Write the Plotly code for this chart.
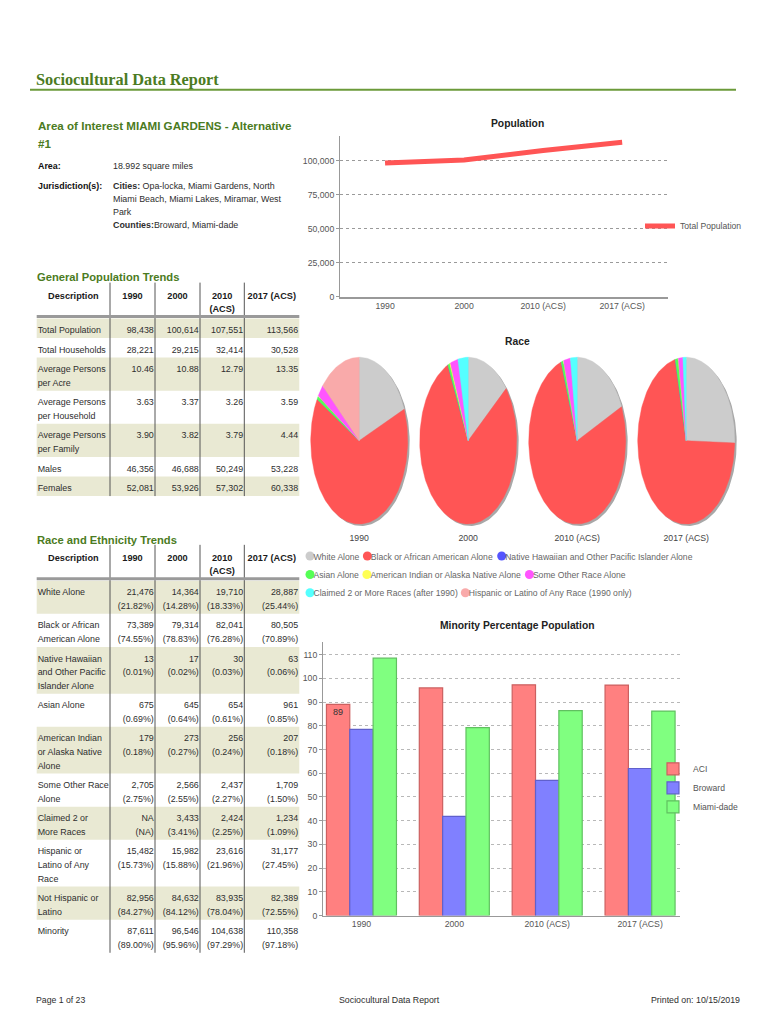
import plotly.graph_objects as go
import numpy as np

W, H = 770, 1024
FONT = "Liberation Sans, Arial, sans-serif"
SERIF = "Liberation Serif, Times New Roman, serif"
GREEN = "#4b7b22"
BEIGE = "#e9e9d3"
TXT = "#2e2e2e"

# ---------------- data ----------------
years = ["1990", "2000", "2010 (ACS)", "2017 (ACS)"]
table_headers = ["Description", "1990", "2000", "2010<br>(ACS)", "2017 (ACS)"]

area_sq_miles = 18.992
cities_lines = ["Opa-locka, Miami Gardens, North", "Miami Beach, Miami Lakes, Miramar, West", "Park"]
counties = "Broward, Miami-dade"

gen_labels = ["Total Population", "Total Households", "Average Persons<br>per Acre",
              "Average Persons<br>per Household", "Average Persons<br>per Family",
              "Males", "Females"]
gen_1990 = [98438, 28221, 10.46, 3.63, 3.90, 46356, 52081]
gen_2000 = [100614, 29215, 10.88, 3.37, 3.82, 46688, 53926]
gen_2010 = [107551, 32414, 12.79, 3.26, 3.79, 50249, 57302]
gen_2017 = [113566, 30528, 13.35, 3.59, 4.44, 53228, 60338]

race_labels = ["White Alone", "Black or African<br>American Alone",
               "Native Hawaiian<br>and Other Pacific<br>Islander Alone", "Asian Alone",
               "American Indian<br>or Alaska Native<br>Alone", "Some Other Race<br>Alone",
               "Claimed 2 or<br>More Races", "Hispanic or<br>Latino of Any<br>Race",
               "Not Hispanic or<br>Latino", "Minority"]
race_1990 = [21476, 73389, 13, 675, 179, 2705, None, 15482, 82956, 87611]
race_2000 = [14364, 79314, 17, 645, 273, 2566, 3433, 15982, 84632, 96546]
race_2010 = [19710, 82041, 30, 654, 256, 2437, 2424, 23616, 83935, 104638]
race_2017 = [28887, 80505, 63, 961, 207, 1709, 1234, 31177, 82389, 110358]
race_pct_1990 = [21.82, 74.55, 0.01, 0.69, 0.18, 2.75, None, 15.73, 84.27, 89.00]
race_pct_2000 = [14.28, 78.83, 0.02, 0.64, 0.27, 2.55, 3.41, 15.88, 84.12, 95.96]
race_pct_2010 = [18.33, 76.28, 0.03, 0.61, 0.24, 2.27, 2.25, 21.96, 78.04, 97.29]
race_pct_2017 = [25.44, 70.89, 0.06, 0.85, 0.18, 1.50, 1.09, 27.45, 72.55, 97.18]

pie_categories = ["White Alone", "Black or African American Alone",
                  "Native Hawaiian and Other Pacific Islander Alone", "Asian Alone",
                  "American Indian or Alaska Native Alone", "Some Other Race Alone",
                  "Claimed 2 or More Races (after 1990)",
                  "Hispanic or Latino of Any Race (1990 only)"]
pie_colors = ["#cccccc", "#ff5555", "#5555ff", "#55ff55", "#ffff55", "#ff55ff",
              "#55ffff", "#f9aaaa"]
pie_uses_hispanic = [True, False, False, False]

minority_groups = ["ACI", "Broward", "Miami-dade"]
minority_aci = [89.00, 95.96, 97.29, 97.18]
minority_broward = [78.5, 41.8, 57.0, 62.0]
minority_miami = [108.5, 79.2, 86.4, 86.2]
minority_colors = ["#ff8080", "#8080ff", "#80ff80"]
minority_edge = ["#cc6060", "#6060cc", "#60c060"]

pop_total = [gen_1990[0], gen_2000[0], gen_2010[0], gen_2017[0]]

# ---------------- helpers ----------------
BODY = 8.9
HDR = 9.2
TICK = 8.7
LEG = 8.6
DY = 1.5  # baseline nudge for middle-anchored text


def fmt(v):
    if v is None:
        return "NA"
    if isinstance(v, float):
        return f"{v:.2f}"
    return f"{v:,}"


def fmt_pct(p):
    return "(NA)" if p is None else f"({p:.2f}%)"


def split(s):
    return s.split("<br>")


_W = {}
for ch, w in zip("abcdefghijklmnopqrstuvwxyz",
                 [.556, .556, .5, .556, .556, .278, .556, .556, .222, .222, .5, .222, .833,
                  .556, .556, .556, .556, .333, .5, .278, .556, .5, .722, .5, .5, .5]):
    _W[ch] = w
for ch, w in zip("ABCDEFGHIJKLMNOPQRSTUVWXYZ",
                 [.667, .667, .722, .722, .667, .611, .778, .722, .278, .5, .667, .556, .833,
                  .722, .778, .667, .778, .722, .667, .611, .722, .667, .944, .667, .667, .611]):
    _W[ch] = w
_W.update({" ": .278, "(": .333, ")": .333, "%": .889, ",": .278, ".": .278, "-": .333})


def text_width(s, size):
    return sum(_W.get(ch, .556) for ch in s) * size


COL_EDGES = [36.7, 110, 155, 200, 244.3, 299.3]
LINE = 13.65

fill_y, fill_w, fill_h, fill_base, fill_c = [], [], [], [], []
txt_traces = []
shapes = []


def text_trace(xs, ys, ts, pos, size, color, weight="normal"):
    return go.Scatter(x=xs, y=ys, text=ts, mode="text", textposition=pos,
                      textfont=dict(size=size, color=color, family=FONT, weight=weight),
                      xaxis="x4", yaxis="y4", showlegend=False, hoverinfo="skip",
                      cliponaxis=False)


def build_table(top, labels, columns):
    hdr_line1 = top + 12.5 + DY
    hdr_bottom = top + 34
    body_top = top + 36
    hx, hy, ht = [], [], []
    for j, h in enumerate(table_headers):
        for k, part in enumerate(split(h)):
            hx.append((COL_EDGES[j] + COL_EDGES[j + 1]) / 2)
            hy.append(hdr_line1 + 12.8 * k)
            ht.append(part)
    txt_traces.append(text_trace(hx, hy, ht, "middle center", HDR, "#1a1a1a", "bold"))
    lx, ly, lt, vx, vy, vt = [], [], [], [], [], []
    y = body_top
    for i, lab in enumerate(labels):
        cells = [col[i] for col in columns]
        n = max([len(split(lab))] + [len(split(c)) for c in cells])
        h = 6 + LINE * n
        if i % 2 == 0:
            fill_y.append(y + h / 2)
            fill_h.append(h)
            fill_w.append(COL_EDGES[-1] - COL_EDGES[0])
            fill_base.append(COL_EDGES[0])
            fill_c.append(BEIGE)
        for k, part in enumerate(split(lab)):
            lx.append(COL_EDGES[0] + 1.0)
            ly.append(y + 11 + DY + LINE * k)
            lt.append(part)
        for j, c in enumerate(cells):
            for k, part in enumerate(split(c)):
                vx.append(COL_EDGES[j + 2] - 1.2)
                vy.append(y + 11 + DY + LINE * k)
                vt.append(part)
        y += h
    bottom = y
    txt_traces.append(text_trace(lx, ly, lt, "middle right", BODY, TXT))
    txt_traces.append(text_trace(vx, vy, vt, "middle left", BODY, TXT))
    for xe in COL_EDGES[1:-1]:
        shapes.append(dict(type="line", xref="x4", yref="y4", x0=xe, x1=xe, y0=top, y1=bottom,
                           line=dict(color="#555555", width=1)))
    shapes.append(dict(type="line", xref="x4", yref="y4", x0=COL_EDGES[0], x1=COL_EDGES[-1],
                       y0=hdr_bottom, y1=hdr_bottom, line=dict(color="#9a9a9a", width=3)))


gen_cols = [[fmt(v) for v in col] for col in (gen_1990, gen_2000, gen_2010, gen_2017)]
race_cols = [[fmt(v) + "<br>" + fmt_pct(p) for v, p in zip(vals, pcts)]
             for vals, pcts in ((race_1990, race_pct_1990), (race_2000, race_pct_2000),
                                (race_2010, race_pct_2010), (race_2017, race_pct_2017))]

build_table(284, gen_labels, gen_cols)
build_table(547.5, race_labels, race_cols)

fig = go.Figure()

# row fills
fig.add_trace(go.Bar(y=fill_y, x=fill_w, base=fill_base, width=fill_h, orientation="h",
                     marker=dict(color=fill_c, line=dict(width=0)), xaxis="x4", yaxis="y4",
                     showlegend=False, hoverinfo="skip"))
for t in txt_traces:
    fig.add_trace(t)

# ---------------- population line ----------------
fig.add_trace(go.Scatter(x=years, y=pop_total, mode="lines", name="Total Population",
                         line=dict(color="#ff5555", width=5), xaxis="x", yaxis="y",
                         legend="legend", hoverinfo="x+y"))

# ---------------- minority bars ----------------
aci_text = [f"{v:.0f}" if i == 0 else "" for i, v in enumerate(minority_aci)]
for name, vals, col, edge, txt in zip(minority_groups,
                                      (minority_aci, minority_broward, minority_miami),
                                      minority_colors, minority_edge, (aci_text, None, None)):
    fig.add_trace(go.Bar(x=years, y=vals, name=name,
                         marker=dict(color=col, line=dict(width=1.2, color=edge)),
                         text=txt, textposition="inside" if txt else None,
                         insidetextanchor="end", textfont=dict(size=9, color="#333", family=FONT),
                         xaxis="x2", yaxis="y2", legend="legend2"))

# ---------------- race pies (ellipses on the page axis) ----------------
PIE_CX0, PIE_DX, PIE_CY, PIE_RX, PIE_RY = 359.2, 109.0, 442.8, 48.5, 83.8
pie_year_values = []
for k, vals in enumerate((race_1990, race_2000, race_2010, race_2017)):
    v = [x if x is not None else 0 for x in vals[:7]]
    v.append(vals[7] if pie_uses_hispanic[k] else 0)
    pie_year_values.append(v)

sx, sy = [], []
tt = np.linspace(0, 2 * np.pi, 181)
for k in range(4):
    cx = PIE_CX0 + PIE_DX * k
    sx += list(cx + 2 + PIE_RX * np.sin(tt)) + [None]
    sy += list(PIE_CY + 2 - PIE_RY * np.cos(tt)) + [None]
fig.add_trace(go.Scatter(x=sx, y=sy, mode="lines", fill="toself", fillcolor="#a8a8a8",
                         line=dict(width=0), xaxis="x4", yaxis="y4", showlegend=False,
                         hoverinfo="skip"))

wedges = [([], []) for _ in pie_categories]
for k, vals in enumerate(pie_year_values):
    cx = PIE_CX0 + PIE_DX * k
    tot = float(sum(vals))
    start = 0.0
    for c, v in enumerate(vals):
        if v <= 0:
            continue
        frac = v / tot
        t = np.linspace(start, start + frac, max(2, int(np.ceil(frac * 240)) + 1)) * 2 * np.pi
        wedges[c][0].extend([cx] + list(cx + PIE_RX * np.sin(t)) + [cx, None])
        wedges[c][1].extend([PIE_CY] + list(PIE_CY - PIE_RY * np.cos(t)) + [PIE_CY, None])
        start += frac
for c, (wx, wy) in enumerate(wedges):
    fig.add_trace(go.Scatter(x=wx, y=wy, mode="lines", fill="toself", fillcolor=pie_colors[c],
                             line=dict(width=0.4, color=pie_colors[c]), name=pie_categories[c],
                             xaxis="x4", yaxis="y4", showlegend=False, hoverinfo="name"))

fig.add_trace(text_trace([PIE_CX0 + PIE_DX * k for k in range(4)], [540 + DY] * 4, years,
                         "middle center", TICK, "#444"))

# race legend (markers + text)
leg_rows = [[0, 1, 2], [3, 4, 5], [6, 7]]
leg_row_y = [558.7, 577.3, 595.7]
mx, my, mc, tx, ty, tl = [], [], [], [], [], []
for r, row in enumerate(leg_rows):
    x = 310.0
    for c in row:
        mx.append(x)
        my.append(leg_row_y[r])
        mc.append(pie_colors[c])
        tx.append(x + 3.5)
        ty.append(leg_row_y[r] + DY)
        tl.append(pie_categories[c])
        x += 5.0 + text_width(pie_categories[c], LEG) + 6.0
fig.add_trace(go.Scatter(x=mx, y=my, mode="markers",
                         marker=dict(symbol="circle", size=9, color=mc, line=dict(width=0)),
                         xaxis="x4", yaxis="y4", showlegend=False, hoverinfo="skip",
                         cliponaxis=False))
fig.add_trace(text_trace(tx, ty, tl, "middle right", LEG, "#666"))


# ---------------- annotations ----------------
def ann(x, y, text, size=BODY, color=TXT, xanchor="left", yanchor="middle", family=FONT,
        weight="normal", align="left"):
    return dict(x=x, y=y, xref="x4", yref="y4", text=text, showarrow=False, xanchor=xanchor,
                yanchor=yanchor, align=align,
                font=dict(size=size, color=color, family=family, weight=weight))


AREA = 8.9
annotations = [
    ann(34, 80, "Sociocultural Data Report", size=16.3, color=GREEN, family=SERIF, weight="bold"),
    ann(36, 126, "Area of Interest MIAMI GARDENS - Alternative", size=11.6, color=GREEN,
        weight="bold"),
    ann(36, 144.3, "#1", size=11.6, color=GREEN, weight="bold"),
    ann(36, 166.7, "<b>Area:</b>", size=AREA, color="#111"),
    ann(111, 166.7, f"{area_sq_miles:.3f} square miles", size=AREA),
    ann(36, 186.7, "<b>Jurisdiction(s):</b>", size=AREA, color="#111"),
    ann(111, 186.7, f"<b>Cities:</b> {cities_lines[0]}", size=AREA),
    ann(111, 199.9, cities_lines[1], size=AREA),
    ann(111, 212.8, cities_lines[2], size=AREA),
    ann(111, 225.8, f"<b>Counties:</b>{counties}", size=AREA),
    ann(35, 278.3, "General Population Trends", size=11.2, color=GREEN, weight="bold"),
    ann(35, 542.7, "Race and Ethnicity Trends", size=11.2, color=GREEN, weight="bold"),
    ann(517, 124, "Population", size=10.3, color="#222", xanchor="center", weight="bold"),
    ann(517, 342.7, "Race", size=10.3, color="#222", xanchor="center", weight="bold"),
    ann(517, 628.3, "Minority Percentage Population", size=10.3, color="#222",
        xanchor="center", weight="bold"),
    ann(34, 1005, "Page 1 of 23", size=8.7),
    ann(389, 1005, "Sociocultural Data Report", size=8.8, xanchor="center"),
    ann(742, 1005, "Printed on: 10/15/2019", size=8.8, xanchor="right"),
]

shapes.append(dict(type="line", xref="x4", yref="y4", x0=30, x1=736, y0=90.3, y1=90.3,
                   line=dict(color="#6b9a3a", width=2)))

tickfont = dict(size=TICK, color="#555", family=FONT)

fig.update_layout(
    width=W, height=H, margin=dict(l=0, r=0, t=0, b=0),
    paper_bgcolor="white", plot_bgcolor="rgba(0,0,0,0)",
    font=dict(family=FONT, size=BODY, color=TXT),
    barmode="group", bargap=0.246, bargroupgap=0,
    showlegend=True,
    xaxis=dict(domain=[340 / W, 668 / W], anchor="y", type="category", range=[-0.57, 3.58],
               showgrid=False, showline=True, linecolor="#999", linewidth=2, ticks="",
               tickfont=tickfont, fixedrange=True),
    yaxis=dict(domain=[1 - 298 / H, 1 - 137 / H], anchor="x", range=[0, 118000],
               tickvals=[0, 25000, 50000, 75000, 100000], tickformat=",d",
               showgrid=True, gridcolor="#9a9a9a", griddash="dot", zeroline=False,
               showline=True, linecolor="#999", ticks="outside", ticklen=3, tickcolor="#999",
               tickfont=tickfont, fixedrange=True),
    xaxis2=dict(domain=[323 / W, 680 / W], anchor="y2", type="category", range=[-0.414, 3.43],
                showgrid=False, showline=True, linecolor="#999", linewidth=1, ticks="",
                tickfont=tickfont, fixedrange=True),
    yaxis2=dict(domain=[1 - 920 / H, 1 - 645 / H], anchor="x2", range=[0, 115.4], dtick=10,
                showgrid=True, gridcolor="#b8b8b8", griddash="dot", zeroline=False,
                showline=True, linecolor="#999", ticks="outside", ticklen=3, tickcolor="#999",
                tickfont=tickfont, fixedrange=True),
    xaxis4=dict(domain=[0, 1], anchor="y4", range=[0, W], visible=False, fixedrange=True),
    yaxis4=dict(domain=[0, 1], anchor="x4", range=[H, 0], visible=False, fixedrange=True),
    legend=dict(x=640 / W, y=1 - 227 / H, xanchor="left", yanchor="middle",
                bgcolor="rgba(0,0,0,0)", font=dict(size=LEG, color="#555", family=FONT)),
    legend2=dict(x=653 / W, y=1 - 791.7 / H, xanchor="left", yanchor="middle",
                 bgcolor="rgba(0,0,0,0)", tracegroupgap=0,
                 font=dict(size=LEG, color="#555", family=FONT)),
    annotations=annotations,
    shapes=shapes,
)

post = ("var d=document.documentElement,b=document.body;"
        "d.style.margin='0';d.style.padding='0';d.style.overflow='hidden';d.style.height='1024px';"
        "b.style.margin='0';b.style.padding='0';b.style.overflow='hidden';b.style.height='1024px';"
        "var g=document.getElementById('{plot_id}');"
        "if(g&&g.parentNode){g.parentNode.style.height='1024px';g.parentNode.style.overflow='hidden';}")

fig.write_html("out.html", config={"displayModeBar": False}, post_script=post)
